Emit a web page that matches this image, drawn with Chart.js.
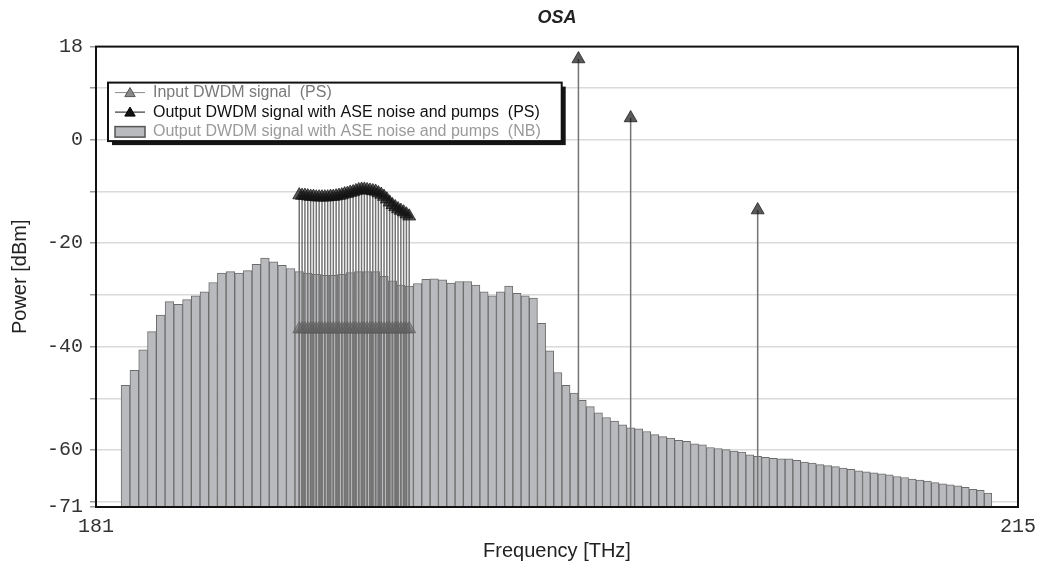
<!DOCTYPE html>
<html>
<head>
<meta charset="utf-8">
<title>OSA</title>
<script src="https://cdn.jsdelivr.net/npm/chart.js@4.4.1/dist/chart.umd.min.js"></script>
<style>
  html, body { margin: 0; padding: 0; background: #fff; }
  #osa { display: block; }
</style>
</head>
<body>
<canvas id="osa" width="1037" height="564"></canvas>
<script>
// Ruído ASE (NB): centro de cada bin em THz e potência em dBm
const nbFreq = [
  182.0, 182.3, 182.6, 182.9, 183.2, 183.5, 183.8, 184.1, 184.4, 184.7,
  185.0, 185.3, 185.6, 185.9, 186.2, 186.5, 186.8, 187.1, 187.4, 187.7,
  188.0, 188.3, 188.6, 188.9, 189.2, 189.5, 189.8, 190.1, 190.4, 190.7,
  191.0, 191.3, 191.6, 191.9, 192.2, 192.5, 192.8, 193.1, 193.4, 193.7,
  194.0, 194.3, 194.6, 194.9, 195.2, 195.5, 195.8, 196.1, 196.4, 196.7,
  197.0, 197.3, 197.6, 197.9, 198.2, 198.5, 198.8, 199.1, 199.4, 199.7,
  200.0, 200.3, 200.6, 200.9, 201.2, 201.5, 201.8, 202.1, 202.4, 202.7,
  203.0, 203.3, 203.6, 203.9, 204.2, 204.5, 204.8, 205.1, 205.4, 205.7,
  206.0, 206.3, 206.6, 206.9, 207.2, 207.5, 207.8, 208.1, 208.4, 208.7,
  209.0, 209.3, 209.6, 209.9, 210.2, 210.5, 210.8, 211.1, 211.4, 211.7,
  212.0, 212.3, 212.6, 212.9, 213.2, 213.5, 213.8
];
const nbPower = [
  -47.5, -44.6, -40.6, -37.1, -33.9, -31.3, -31.8, -30.9, -30.2, -29.4,
  -27.6, -25.8, -25.5, -25.8, -25.3, -24.1, -22.9, -23.6, -24.3, -24.9,
  -25.5, -25.8, -26.0, -26.2, -26.2, -26.0, -25.7, -25.5, -25.5, -25.5,
  -26.4, -27.3, -28.1, -28.3, -27.8, -27.0, -26.9, -27.1, -27.7, -27.4,
  -27.4, -28.1, -29.4, -30.2, -29.4, -28.3, -29.7, -30.2, -30.6, -35.5,
  -40.8, -45.0, -47.5, -49.0, -50.4, -51.6, -52.8, -53.7, -54.4, -55.1,
  -55.7, -55.9, -56.4, -57.0, -57.4, -57.7, -58.1, -58.3, -58.8, -59.0,
  -59.5, -59.7, -59.9, -60.2, -60.4, -60.9, -61.2, -61.4, -61.6, -61.7,
  -61.7, -62.0, -62.3, -62.5, -62.8, -63.0, -63.2, -63.5, -63.7, -64.0,
  -64.2, -64.4, -64.6, -64.8, -65.1, -65.3, -65.6, -65.8, -66.0, -66.3,
  -66.5, -66.7, -66.9, -67.2, -67.6, -67.8, -68.3
];

// Canais DWDM (THz) e potências de entrada / saída (dBm)
const chFreq = [
  188.0, 188.1, 188.2, 188.3, 188.4, 188.5, 188.6, 188.7, 188.8, 188.9,
  189.0, 189.1, 189.2, 189.3, 189.4, 189.5, 189.6, 189.7, 189.8, 189.9,
  190.0, 190.1, 190.2, 190.3, 190.4, 190.5, 190.6, 190.7, 190.8, 190.9,
  191.0, 191.1, 191.2, 191.3, 191.4, 191.5, 191.6, 191.7, 191.8, 191.9
];
const inputPower = [
  -36.6, -36.6, -36.6, -36.6, -36.6, -36.6, -36.6, -36.6, -36.6, -36.6,
  -36.6, -36.6, -36.6, -36.6, -36.6, -36.6, -36.6, -36.6, -36.6, -36.6,
  -36.6, -36.6, -36.6, -36.6, -36.6, -36.6, -36.6, -36.6, -36.6, -36.6,
  -36.6, -36.6, -36.6, -36.6, -36.6, -36.6, -36.6, -36.6, -36.6, -36.6
];
const outputPower = [
  -10.7, -10.8, -10.8, -10.9, -11.0, -11.0, -11.1, -11.1, -11.1, -11.1,
  -11.1, -11.0, -11.0, -10.9, -10.8, -10.7, -10.5, -10.4, -10.2, -10.1,
  -9.9, -9.7, -9.6, -9.6, -9.7, -9.8, -9.9, -10.0, -10.3, -10.6,
  -11.0, -11.5, -12.1, -12.6, -13.0, -13.4, -13.7, -14.0, -14.4, -14.8
];

// Bombas Raman
const pumpFreq = [198.06, 200.0, 204.8];
const pumpPower = [15.6, 4.2, -13.6];

// Eixos
const yTicks = [18, 10, 0, -10, -20, -30, -40, -50, -60, -70, -71];
const yLabels = [18, 0, -20, -40, -60, -71];
const xTicks = [181, 215];

const yMax = yTicks[0];
const yMin = yTicks[yTicks.length - 1];

const monoFont = { family: '"Liberation Mono", "DejaVu Sans Mono", monospace', size: 20 };
const sansFont = '"Liberation Sans", Arial, sans-serif';

// linhas verticais (do fundo até o marcador) antes de desenhar os triângulos
const stemPlugin = {
  id: 'stems',
  beforeDatasetDraw(chart, args) {
    const ds = chart.data.datasets[args.index];
    if (!ds.stemColor) return;
    const ctx = chart.ctx;
    const bottom = chart.scales.y.getPixelForValue(yMin);
    ctx.save();
    ctx.strokeStyle = ds.stemColor;
    ctx.lineWidth = ds.stemWidth;
    ctx.beginPath();
    args.meta.data.forEach((pt) => {
      ctx.moveTo(pt.x, pt.y);
      ctx.lineTo(pt.x, bottom);
    });
    ctx.stroke();
    ctx.restore();
  }
};

// moldura preta em volta da área do gráfico
const framePlugin = {
  id: 'frame',
  afterDatasetsDraw(chart) {
    const { ctx, chartArea: a } = chart;
    ctx.save();
    ctx.strokeStyle = '#111';
    ctx.lineWidth = 2;
    ctx.strokeRect(a.left, a.top, a.right - a.left, a.bottom - a.top);
    ctx.restore();
  }
};

// legenda dentro do gráfico, com caixa e sombra
const legendBox = {
  id: 'legendBox',
  afterDraw(chart) {
    const ctx = chart.ctx;
    const a = chart.chartArea;
    const sets = chart.data.datasets;
    const x = a.left + 12;
    const y = a.top + 36;
    const rowH = 19.5;
    ctx.save();
    ctx.font = '16px ' + sansFont;
    const textW = Math.max(...sets.map((d) => ctx.measureText(d.label).width));
    const w = 45 + textW + 21;
    const h = rowH * sets.length;

    ctx.fillStyle = '#151515';
    ctx.fillRect(x + 4, y + 4, w, h);
    ctx.fillStyle = '#fff';
    ctx.fillRect(x, y, w, h);
    ctx.strokeStyle = '#111';
    ctx.lineWidth = 2;
    ctx.strokeRect(x, y, w, h);

    sets.forEach((d, i) => {
      const cy = y + 10 + rowH * i;
      if (d.type === 'bar') {
        ctx.fillStyle = d.backgroundColor;
        ctx.strokeStyle = '#555';
        ctx.lineWidth = 1.5;
        ctx.fillRect(x + 7, cy - 5, 30, 10.5);
        ctx.strokeRect(x + 7, cy - 5, 30, 10.5);
      } else {
        ctx.strokeStyle = d.legendColor;
        ctx.lineWidth = 1;
        ctx.beginPath();
        ctx.moveTo(x + 7, cy);
        ctx.lineTo(x + 37, cy);
        ctx.stroke();
        ctx.fillStyle = d.legendColor;
        ctx.strokeStyle = d.legendEdge;
        Chart.helpers.drawPoint(ctx, { pointStyle: 'triangle', radius: 6, borderWidth: 1 }, x + 22, cy + 1);
      }
      ctx.fillStyle = d.legendText;
      ctx.textBaseline = 'middle';
      ctx.textAlign = 'left';
      ctx.fillText(d.label, x + 45, cy);
    });
    ctx.restore();
  }
};

const inputData = chFreq.map((f, i) => ({ x: f, y: inputPower[i] }));
const outputData = chFreq.map((f, i) => ({ x: f, y: outputPower[i] }))
  .concat(pumpFreq.map((f, i) => ({ x: f, y: pumpPower[i] })));
const nbData = nbFreq.map((f, i) => ({ x: f, y: nbPower[i] }));

new Chart(document.getElementById('osa'), {
  type: 'bar',
  data: {
    datasets: [
      {
        type: 'line',
        label: 'Input DWDM signal  (PS)',
        data: inputData,
        showLine: false,
        pointStyle: 'triangle',
        pointRadius: 7.5,
        pointBackgroundColor: 'rgba(100,100,100,0.55)',
        pointBorderColor: 'rgba(90,90,90,0.6)',
        pointBorderWidth: 1,
        stemColor: '#747474',
        stemWidth: 1.5,
        legendColor: '#8a8a8a',
        legendEdge: '#555',
        legendText: '#7a7a7a',
      },
      {
        type: 'line',
        label: 'Output DWDM signal with ASE noise and pumps  (PS)',
        data: outputData,
        showLine: false,
        pointStyle: 'triangle',
        pointRadius: 7.5,
        pointBackgroundColor: 'rgba(20,20,20,0.7)',
        pointBorderColor: 'rgba(20,20,20,0.7)',
        pointBorderWidth: 1,
        stemColor: '#747474',
        stemWidth: 1.5,
        legendColor: '#111',
        legendEdge: '#000',
        legendText: '#111',
      },
      {
        type: 'bar',
        label: 'Output DWDM signal with ASE noise and pumps  (NB)',
        data: nbData,
        base: yMin,
        barThickness: 'flex',
        categoryPercentage: 1,
        barPercentage: 1,
        backgroundColor: '#b9babd',
        borderColor: '#6c6c6c',
        borderWidth: 1,
        legendText: '#9a9a9a',
      }
    ]
  },
  options: {
    responsive: false,
    animation: false,
    devicePixelRatio: 1,
    events: [],
    layout: { padding: { left: 0, right: 19, top: 0, bottom: 0 } },
    plugins: {
      legend: { display: false },
      tooltip: { enabled: false },
      title: {
        display: true,
        fullSize: false,
        text: 'OSA',
        color: '#222',
        font: { family: sansFont, size: 18, style: 'italic', weight: 'bold' },
        padding: { top: 7, bottom: 18 },
      }
    },
    scales: {
      x: {
        type: 'logarithmic',
        min: xTicks[0],
        max: xTicks[xTicks.length - 1],
        offset: false,
        grid: { display: false, drawTicks: false },
        border: { display: false },
        afterBuildTicks: (s) => { s.ticks = xTicks.map((v) => ({ value: v })); },
        afterFit: (s) => { s.height = 57; s.paddingLeft = 0; s.paddingRight = 0; },
        ticks: {
          autoSkip: false,
          maxRotation: 0,
          padding: 8,
          color: '#333',
          font: monoFont,
          callback: (v) => String(v),
        },
        title: {
          display: true,
          text: 'Frequency [THz]',
          color: '#222',
          font: { family: sansFont, size: 20 },
          padding: { top: 0, bottom: 1 },
        }
      },
      y: {
        type: 'linear',
        min: yMin,
        max: yMax,
        afterBuildTicks: (s) => { s.ticks = yTicks.map((v) => ({ value: v })); },
        afterFit: (s) => { s.width = 96; },
        grid: {
          color: (c) => (c.tick && (c.tick.value === yMax || c.tick.value === yMin)) ? 'rgba(0,0,0,0)' : '#dadada',
          lineWidth: 1.5,
          tickLength: 6,
          tickColor: '#9a9a9a',
        },
        border: { display: false },
        ticks: {
          autoSkip: false,
          padding: 7,
          color: '#333',
          font: monoFont,
          callback: (v) => (yLabels.includes(v) ? String(v) : ''),
        },
        title: {
          display: true,
          text: 'Power [dBm]',
          color: '#222',
          font: { family: sansFont, size: 20 },
          padding: { top: 8, bottom: 0 },
        }
      }
    }
  },
  plugins: [stemPlugin, framePlugin, legendBox]
});
</script>
</body>
</html>
